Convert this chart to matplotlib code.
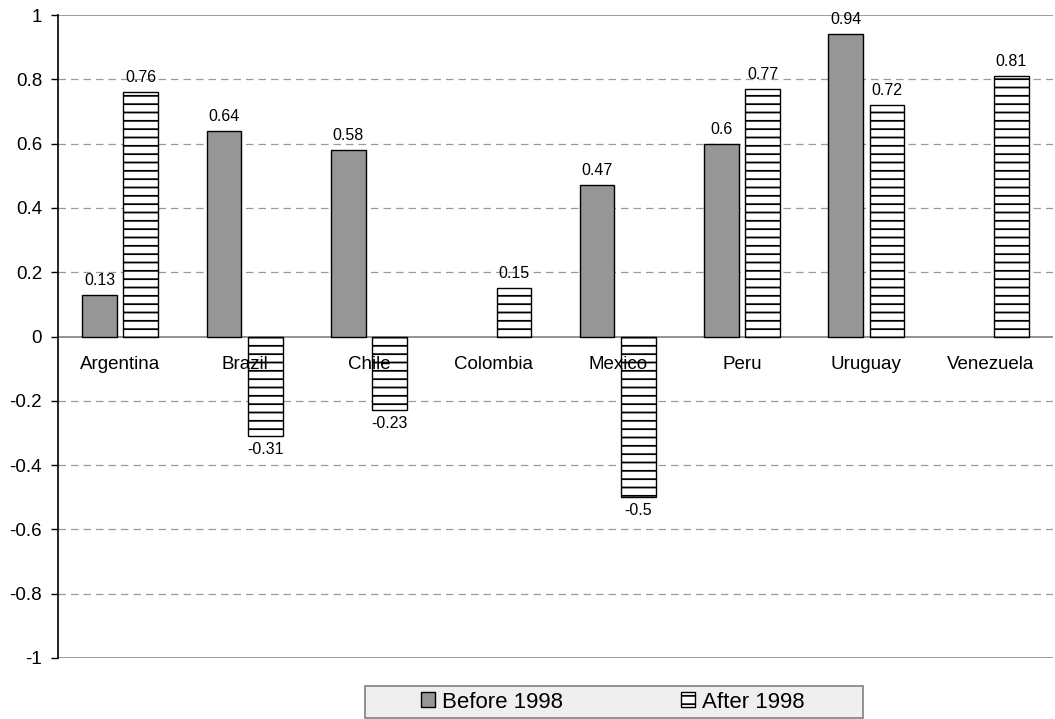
import matplotlib
matplotlib.use("Agg")
import matplotlib.pyplot as plt
from matplotlib.patches import Patch, Rectangle
import numpy as np

plt.rcParams['font.family'] = ['Liberation Sans', 'DejaVu Sans']
plt.rcParams['axes.unicode_minus'] = False
plt.rcParams['hatch.linewidth'] = 1.3

categories = ["Argentina", "Brazil", "Chile", "Colombia", "Mexico", "Peru", "Uruguay", "Venezuela"]
before_1998 = [0.13, 0.64, 0.58, None, 0.47, 0.6, 0.94, None]
after_1998 = [0.76, -0.31, -0.23, 0.15, -0.5, 0.77, 0.72, 0.81]
series_names = ["Before 1998", "After 1998"]
yticks = [1, 0.8, 0.6, 0.4, 0.2, 0, -0.2, -0.4, -0.6, -0.8, -1]

W, H = 1055, 719
fig = plt.figure(figsize=(W / 100, H / 100), dpi=100)
ax = fig.add_axes([58 / W, 1 - 658 / H, (1053 - 58) / W, (658 - 15) / H])

x = np.arange(len(categories))
bw = 0.28
off = 0.166

bvals = [np.nan if v is None else v for v in before_1998]
avals = [np.nan if v is None else v for v in after_1998]

ax.bar(x - off, bvals, width=bw, color="#969696", edgecolor="black", linewidth=1.0, zorder=3)
ax.bar(x + off, avals, width=bw, color="white", edgecolor="black", linewidth=1.0, hatch="--", zorder=3)

def lab(xs, vals):
    for xi, v in zip(xs, vals):
        if v is None:
            continue
        if v >= 0:
            ax.annotate(f"{v:g}", (xi, v), xytext=(0, 5), textcoords="offset points",
                        ha="center", va="bottom", fontsize=11.5, zorder=6)
        else:
            ax.annotate(f"{v:g}", (xi, v), xytext=(0, -4), textcoords="offset points",
                        ha="center", va="top", fontsize=11.5, zorder=6)

lab(x - off, before_1998)
lab(x + off, after_1998)

# category labels below the zero line
for xi, c in zip(x, categories):
    ax.annotate(c, (xi, 0), xytext=(0, -14), textcoords="offset points",
                ha="center", va="top", fontsize=13.5, zorder=6, annotation_clip=False)

ax.set_xlim(-0.5, len(categories) - 0.5)
ax.set_ylim(-1, 1)
ax.set_yticks(yticks)
ax.set_yticklabels([f"{t:g}" for t in yticks], fontsize=13.5)
ax.set_xticks([])
ax.tick_params(axis="y", direction="out", length=5, width=1, color="black", pad=6.5)

for s in ["top", "right", "bottom"]:
    ax.spines[s].set_visible(False)
ax.spines["left"].set_color("black")
ax.spines["left"].set_linewidth(1.2)
ax.spines["left"].set_zorder(4)

for t in yticks:
    if t in (1, -1):
        ax.axhline(t, color="#8c8c8c", linewidth=1.2, zorder=1)
    elif t == 0:
        ax.axhline(t, color="#808080", linewidth=1.2, zorder=2)
    else:
        ax.axhline(t, color="#9a9a9a", linewidth=0.9, linestyle=(0, (6, 4)), zorder=1)

# legend box
fig.patches.append(Rectangle((365 / W, 1 - 718 / H), (863 - 365) / W, 32 / H,
                             transform=fig.transFigure, facecolor="#efefef",
                             edgecolor="#808080", linewidth=1.2, zorder=0))
handles = [Patch(facecolor="#969696", edgecolor="black", linewidth=1.0),
           Patch(facecolor="white", edgecolor="black", linewidth=1.0, hatch="--")]
fig.legend(handles, series_names, loc="center left",
           bbox_to_anchor=(421 / W, 1 - 702 / H), frameon=False, ncol=2,
           fontsize=16, handlelength=0.65, handleheight=0.65, handletextpad=0.3,
           columnspacing=5.3, borderpad=0, borderaxespad=0)

fig.savefig("out.png", dpi=100)
